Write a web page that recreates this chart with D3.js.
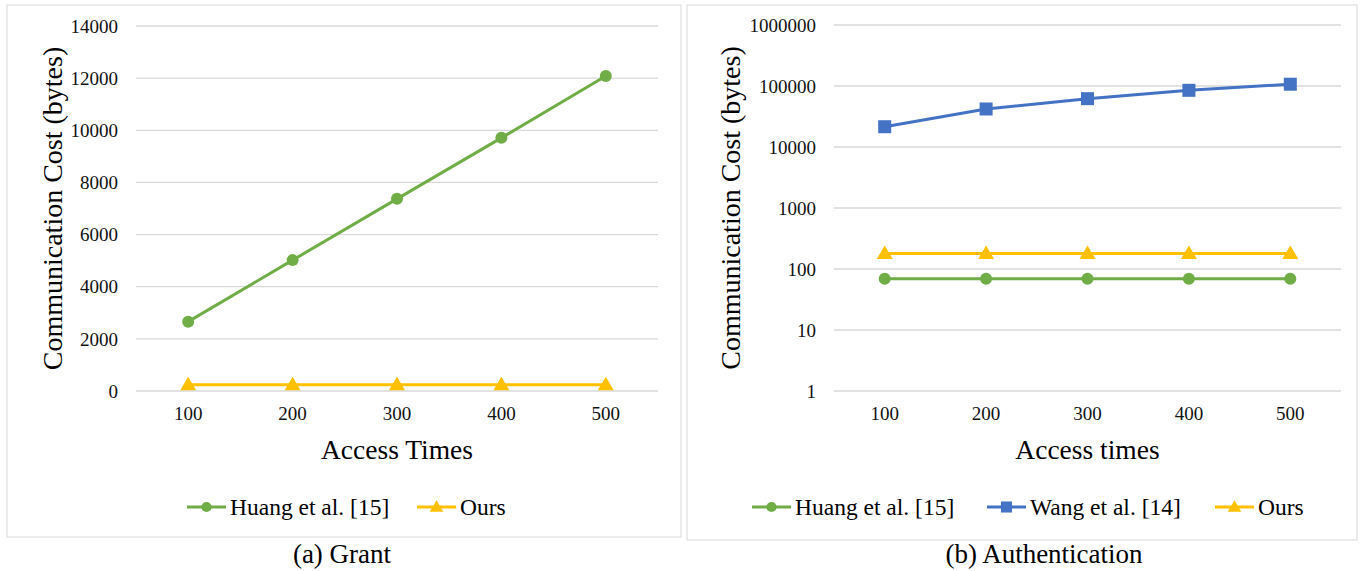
<!DOCTYPE html>
<html><head><meta charset="utf-8">
<script src="https://cdn.jsdelivr.net/npm/d3@7"></script>
<style>body{margin:0;background:#fff}svg{display:block}</style>
</head><body>
<svg id="c" width="1362" height="571"></svg>
<script>
const accessTimes = [100, 200, 300, 400, 500];
const grantHuang = [2660, 5020, 7370, 9710, 12080];
const grantOurs = [240, 240, 240, 240, 240];
const authHuang = [69, 69, 69, 69, 69];
const authWang = [21500, 42000, 62000, 85000, 107000];
const authOurs = [180, 180, 180, 180, 180];
const grantTicks = [0, 2000, 4000, 6000, 8000, 10000, 12000, 14000];
const authTicks = [1, 10, 100, 1000, 10000, 100000, 1000000];

const GREEN = "#70AD47", BLUE = "#4472C4", YELLOW = "#FFC000", GRID = "#d9d9d9";
const FONT = "'Liberation Serif','Times New Roman',serif";
const svg = d3.select("#c");

function panel(o) {
  const g = svg.append("g");
  g.append("rect").attr("x", o.box[0]).attr("y", o.box[1]).attr("width", o.box[2]).attr("height", o.box[3])
    .attr("fill", "none").attr("stroke", GRID).attr("stroke-width", 1);
  const x = d3.scaleBand().domain(accessTimes).range([o.left, o.right]);
  const y = o.yScale;
  g.selectAll(".grid").data(o.ticks).join("line")
    .attr("x1", o.left).attr("x2", o.right)
    .attr("y1", d => y(d)).attr("y2", d => y(d))
    .attr("stroke", GRID).attr("stroke-width", 1.3);
  g.selectAll(".yl").data(o.ticks).join("text")
    .attr("x", o.left - 18).attr("y", d => y(d)).attr("dy", "0.35em")
    .attr("text-anchor", "end").attr("font-family", FONT).attr("font-size", 19).attr("fill", "#111")
    .text(d => d);
  g.selectAll(".xl").data(accessTimes).join("text")
    .attr("x", d => x(d) + x.bandwidth() / 2).attr("y", o.xLabelY)
    .attr("text-anchor", "middle").attr("font-family", FONT).attr("font-size", 19).attr("fill", "#111")
    .text(d => d);
  g.append("text").attr("x", (o.left + o.right) / 2).attr("y", o.xTitleY)
    .attr("text-anchor", "middle").attr("font-family", FONT).attr("font-size", 27.5).attr("fill", "#000")
    .text(o.xTitle);
  g.append("text").attr("transform", `translate(${o.yTitleX},${(y.range()[0] + y.range()[1]) / 2}) rotate(-90)`)
    .attr("text-anchor", "middle").attr("font-family", FONT).attr("font-size", 28).attr("fill", "#000")
    .text("Communication Cost (bytes)");
  const cx = d => x(d) + x.bandwidth() / 2;
  o.series.forEach(s => {
    const pts = accessTimes.map((t, i) => [cx(t), y(s.values[i])]);
    g.append("path").attr("d", d3.line()(pts)).attr("fill", "none").attr("stroke", s.color).attr("stroke-width", 3);
    pts.forEach(p => marker(g, s.shape, p[0], p[1], s.color, 1));
  });
  o.series.forEach(s => {
    const lx = s.legendX, ly = o.legendY;
    g.append("line").attr("x1", lx).attr("x2", lx + 39).attr("y1", ly).attr("y2", ly).attr("stroke", s.color).attr("stroke-width", 3);
    marker(g, s.shape, lx + 19.5, ly, s.color, 0.85);
    g.append("text").attr("x", lx + 43).attr("y", ly).attr("dy", "0.35em")
      .attr("font-family", FONT).attr("font-size", 23.5).attr("fill", "#000").text(s.name);
  });
  g.append("text").attr("x", o.capX).attr("y", 563).attr("text-anchor", "middle")
    .attr("font-family", FONT).attr("font-size", 27).attr("fill", "#000").text(o.caption);
}

function marker(g, shape, x, y, color, k) {
  if (shape === "circle") g.append("circle").attr("cx", x).attr("cy", y).attr("r", 6 * k).attr("fill", color);
  else if (shape === "square") g.append("rect").attr("x", x - 6.5 * k).attr("y", y - 6.5 * k).attr("width", 13 * k).attr("height", 13 * k).attr("fill", color);
  else g.append("path").attr("d", `M${x},${y - 8 * k}L${x + 8 * k},${y + 5.5 * k}L${x - 8 * k},${y + 5.5 * k}Z`).attr("fill", color);
}

panel({
  box: [7, 5, 674, 532], left: 136, right: 658,
  yScale: d3.scaleLinear().domain([0, 14000]).range([391, 26]),
  ticks: grantTicks, xLabelY: 420, xTitleY: 459, yTitleX: 62, xTitle: "Access Times",
  legendY: 507, caption: "(a) Grant", capX: 342,
  series: [
    {name: "Huang et al. [15]", values: grantHuang, color: GREEN, shape: "circle", legendX: 187},
    {name: "Ours", values: grantOurs, color: YELLOW, shape: "triangle", legendX: 417}
  ]
});
panel({
  box: [687, 5, 670, 535], left: 834, right: 1341,
  yScale: d3.scaleLog().domain([1, 1000000]).range([391, 25]),
  ticks: authTicks, xLabelY: 420, xTitleY: 459, yTitleX: 740, xTitle: "Access times",
  legendY: 507, caption: "(b) Authentication", capX: 1044,
  series: [
    {name: "Huang et al. [15]", values: authHuang, color: GREEN, shape: "circle", legendX: 752},
    {name: "Wang et al. [14]", values: authWang, color: BLUE, shape: "square", legendX: 987},
    {name: "Ours", values: authOurs, color: YELLOW, shape: "triangle", legendX: 1215}
  ]
});
</script>
</body></html>
